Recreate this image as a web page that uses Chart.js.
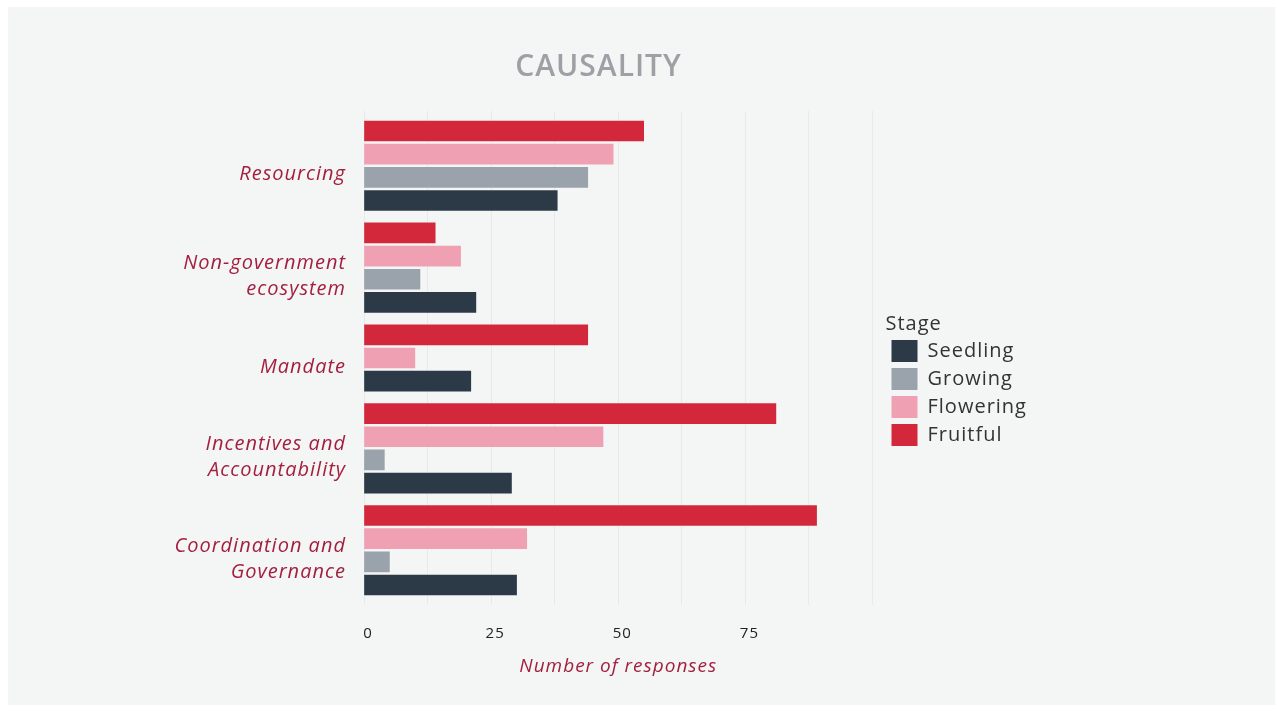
<!DOCTYPE html>
<html>
<head>
  <title>Causality</title>
  <script src="https://cdn.jsdelivr.net/npm/chart.js"></script>
  <style>
    html, body { margin: 0; padding: 0; background: #ffffff; }
    #panel { position: absolute; left: 8px; top: 7px; width: 1267px; height: 698px; background: #f4f5f5; }
    #wrap { position: absolute; left: 0; top: 0; width: 1277px; height: 711px; }
  </style>
</head>
<body>
  <div id="panel"></div>
  <div id="wrap"><canvas id="causalityChart"></canvas></div>

  <script>
    // categories, top to bottom
    const categories = [
      ['Resourcing'],
      ['Non-government', 'ecosystem'],
      ['Mandate'],
      ['Incentives and', 'Accountability'],
      ['Coordination and', 'Governance']
    ];
    const stages = ['Seedling', 'Growing', 'Flowering', 'Fruitful'];
    const stageColors = ['#2c3a48', '#9aa3ab', '#efa1b3', '#d3283c'];

    // number of responses per stage (null = no responses)
    const seedling  = [38, 22, 21, 29, 30];
    const growing   = [44, 11, null, 4, 5];
    const flowering = [49, 19, 10, 47, 32];
    const fruitful  = [55, 14, 44, 81, 89];

    const xTickLabels = [0, 25, 50, 75];

    const series = [seedling, growing, flowering, fruitful];
    const red = '#a31f3f';
    const font = "'Open Sans', sans-serif";

    // stack the bars of each category: Fruitful on top, Seedling at the bottom,
    // leaving no slot for a stage without responses
    const groupGap = 0.4;
    const rowPos = series.map(() => []);
    const groupCenters = [];
    let pos = 0;
    categories.forEach((c, i) => {
      const rows = [];
      for (let s = series.length - 1; s >= 0; s--) {
        if (series[s][i] == null) continue;
        rowPos[s][i] = pos;
        rows.push(pos);
        pos += 1;
      }
      groupCenters.push((rows[0] + rows[rows.length - 1]) / 2);
      pos += groupGap;
    });
    const lastRow = pos - 1 - groupGap;
    const edge = 0.865;

    const datasets = stages.map((name, s) => ({
      label: name,
      backgroundColor: stageColors[s],
      borderWidth: 0,
      grouped: false,
      barThickness: 20,
      data: series[s]
        .map((v, i) => (v == null ? null : { x: v, y: rowPos[s][i] }))
        .filter(d => d)
    }));

    const padLeft = 168;
    const padRight = 248;

    // wider tracking on every label
    const tracking = {
      id: 'tracking',
      beforeUpdate(chart) { chart.ctx.letterSpacing = '1px'; },
      beforeDraw(chart) { chart.ctx.letterSpacing = '1px'; }
    };

    const ctx = document.getElementById('causalityChart').getContext('2d');
    new Chart(ctx, {
      type: 'bar',
      data: { datasets: datasets },
      plugins: [tracking],
      options: {
        indexAxis: 'y',
        responsive: true,
        maintainAspectRatio: false,
        animation: false,
        layout: { padding: { left: padLeft, right: padRight, top: 49, bottom: 33 } },
        plugins: {
          tooltip: { enabled: false },
          title: {
            display: true,
            text: 'CAUSALITY',
            color: '#9ca1a5',
            font: { family: font, size: 30, weight: '600', lineHeight: 1.2 },
            padding: { top: 0, bottom: 26 }
          },
          legend: {
            position: 'right',
            align: 'center',
            title: {
              display: true,
              text: 'Stage',
              position: 'start',
              color: '#333333',
              font: { family: font, size: 20, lineHeight: 1 },
              padding: { top: 39, bottom: 0 }
            },
            labels: {
              boxWidth: 26,
              boxHeight: 22,
              padding: 6,
              color: '#333333',
              font: { family: font, size: 20 }
            }
          }
        },
        scales: {
          x: {
            min: 0,
            max: 100,
            grid: { color: '#e8eaea', drawTicks: false },
            border: { display: false },
            afterFit: scale => { scale.height = 73; },
            ticks: {
              stepSize: 12.5,
              autoSkip: false,
              maxRotation: 0,
              padding: 20,
              labelOffset: 4,
              color: '#222222',
              font: { family: font, size: 15 },
              callback: v => (xTickLabels.includes(v) ? v : '')
            },
            title: {
              display: true,
              text: 'Number of responses',
              color: red,
              font: { family: font, size: 19, style: 'italic', lineHeight: 1.2 },
              padding: { top: 10, bottom: 0 }
            }
          },
          y: {
            type: 'linear',
            reverse: true,
            offset: false,
            bounds: 'data',
            min: -edge,
            max: lastRow + edge,
            grid: { display: false, drawTicks: false, offset: false },
            border: { display: false },
            afterDataLimits: scale => {
              scale.min = -edge;
              scale.max = lastRow + edge;
            },
            afterBuildTicks: scale => {
              scale.ticks = groupCenters.map(v => ({ value: v }));
            },
            afterFit: scale => { scale.width = 364 - padLeft; },
            ticks: {
              autoSkip: false,
              padding: 18,
              labelOffset: 9,
              color: red,
              font: { family: font, size: 20, style: 'italic', lineHeight: 1.3 },
              callback: (v, i) => categories[i]
            }
          },
          // keeps a little room between the plot and the legend
          gap: {
            type: 'linear',
            position: 'right',
            grid: { display: false, drawTicks: false },
            border: { display: false },
            ticks: { display: false },
            afterFit: scale => { scale.width = 13; }
          }
        }
      }
    });
  </script>
</body>
</html>
